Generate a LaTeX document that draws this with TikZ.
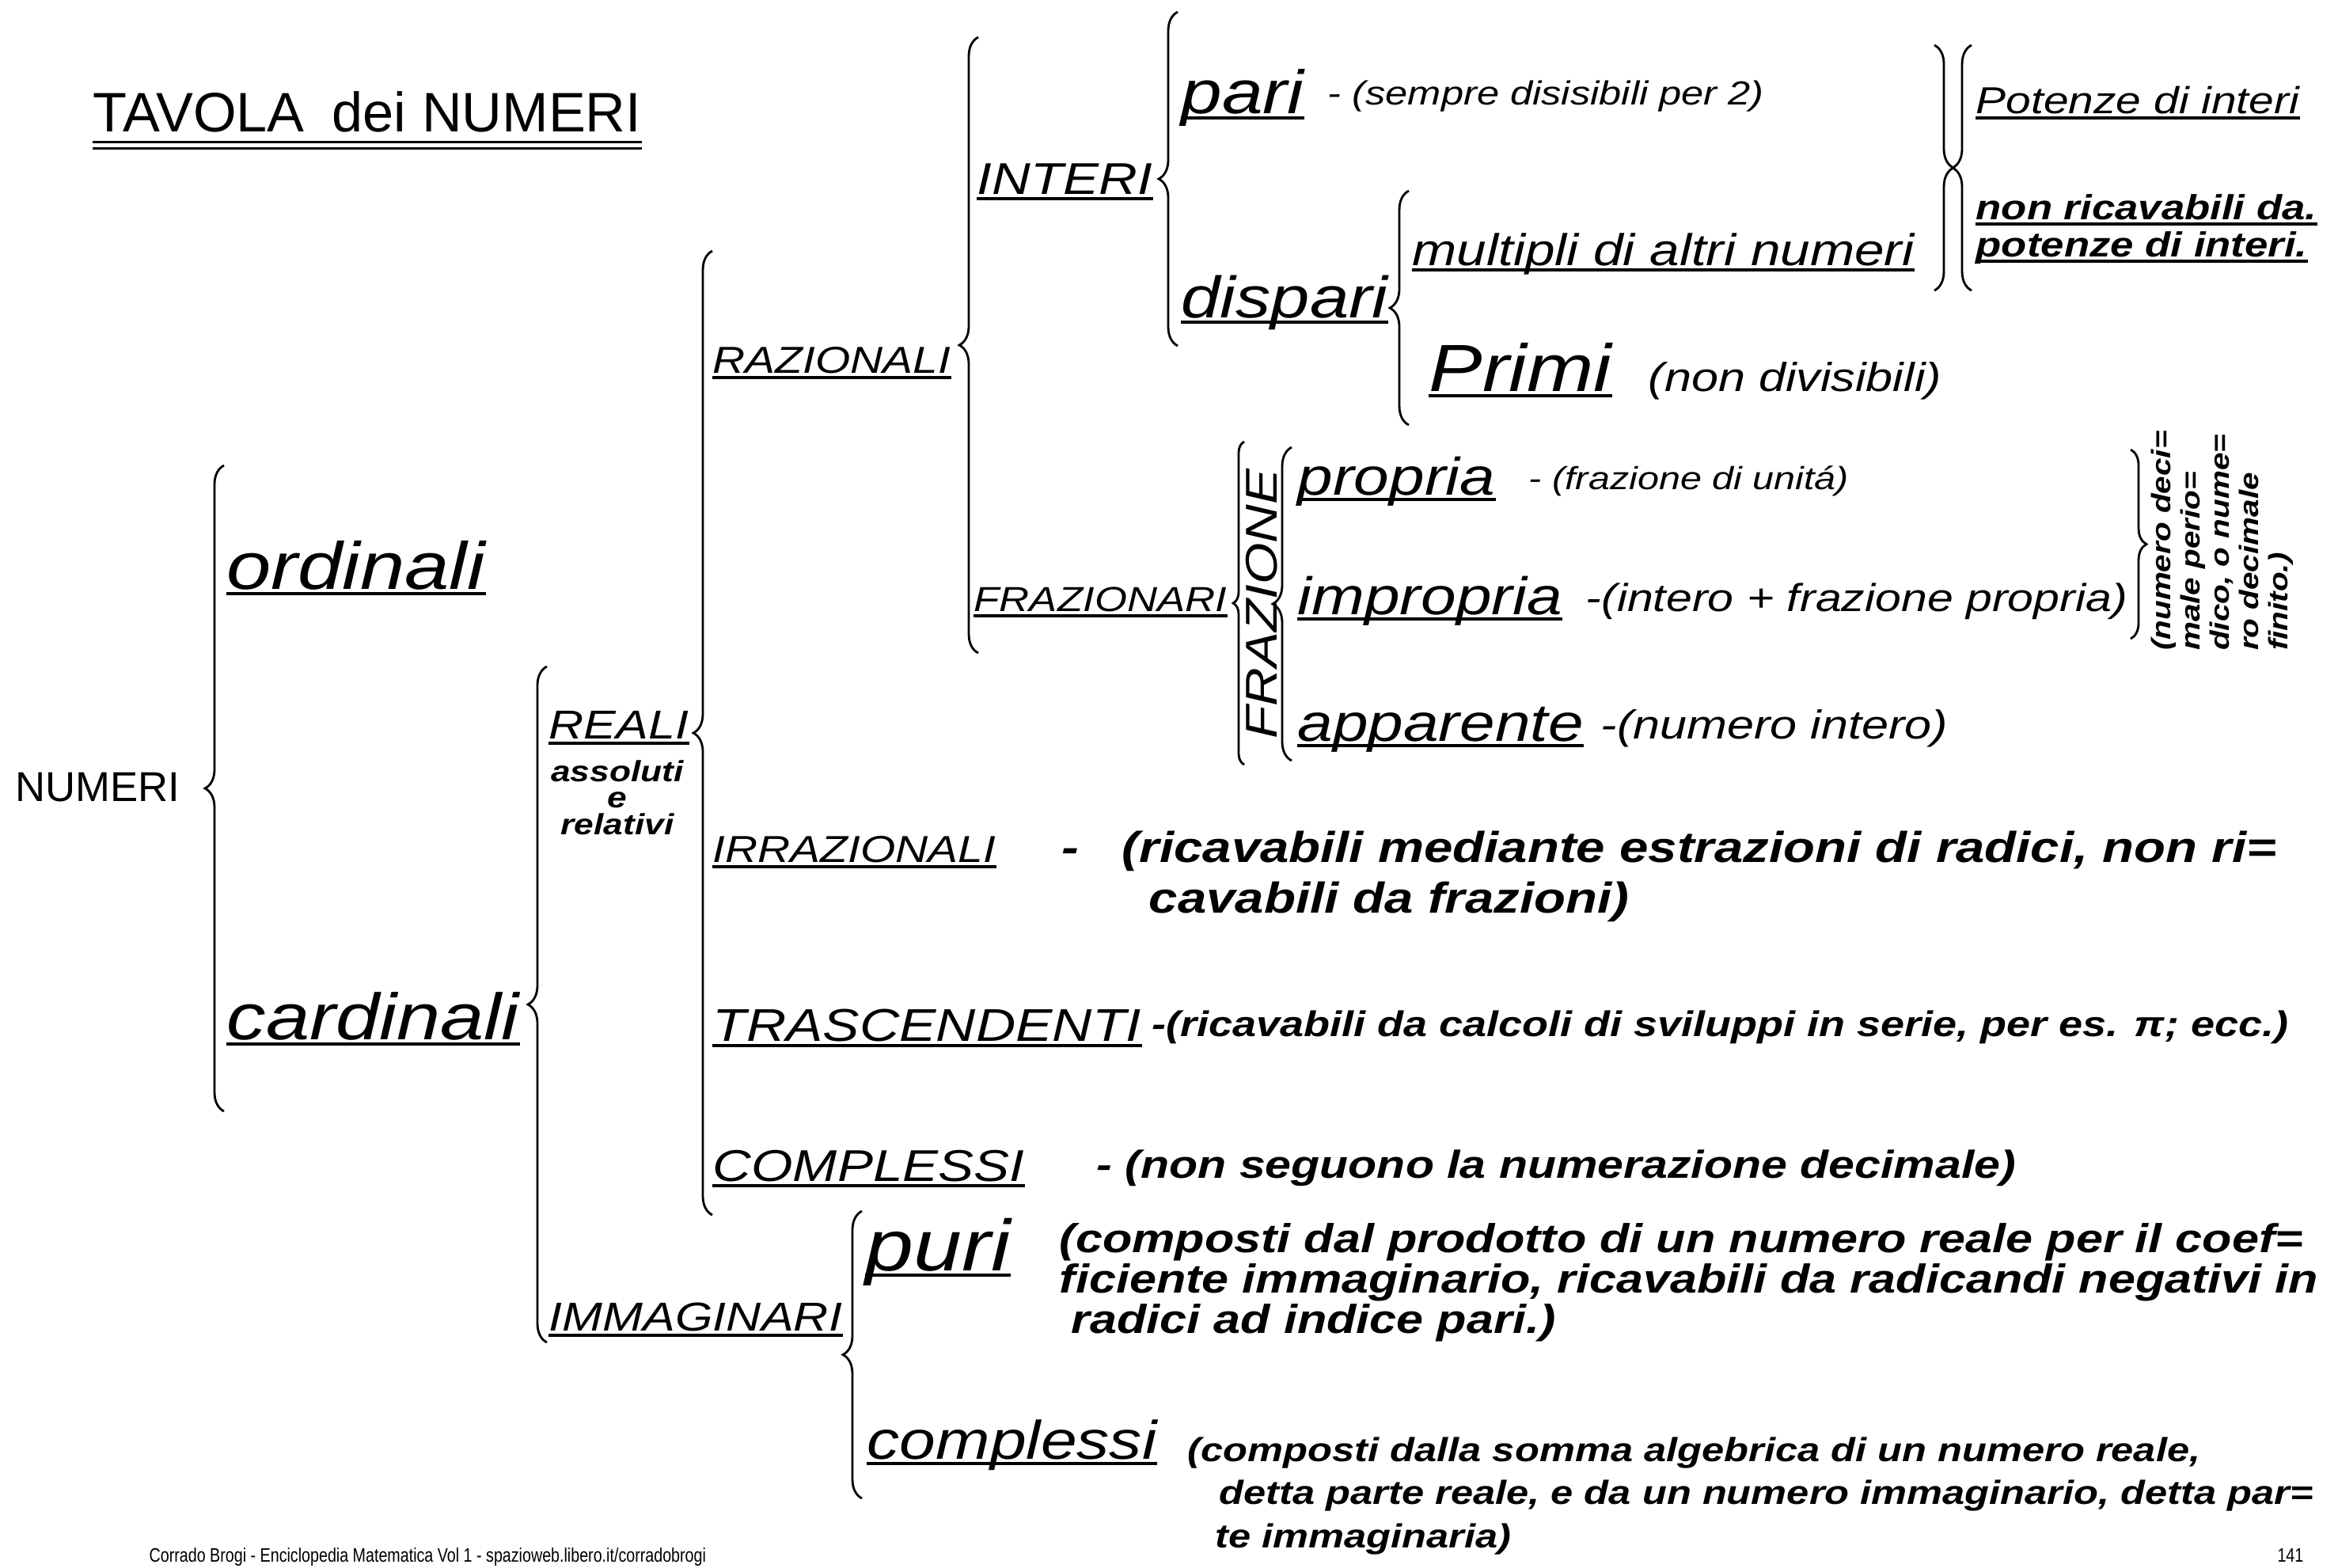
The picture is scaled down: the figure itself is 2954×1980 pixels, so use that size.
\documentclass[tikz,border=0pt]{standalone}
\usepackage{fontspec}
\setmainfont{Liberation Sans}
\newfontfamily\hand[FakeStretch=1.2]{Liberation Sans}
\newfontfamily\footfont[FakeStretch=0.8]{Liberation Sans}
\usetikzlibrary{decorations.pathreplacing}
\tikzset{
  brc/.style   = {decorate, decoration={brace, amplitude=#1}, line width=0.8pt},
  brc/.default = 2.4mm,
  ul/.style    = {line width=1pt},
  lbl/.style   = {anchor=base west, inner xsep=0pt, inner ysep=1.5pt, text depth=0pt,
                  font=\hand\itshape\fontsize{#1}{#1}\selectfont,
                  append after command={(\tikzlastnode.south west) edge[ul] (\tikzlastnode.south east)}},
  blbl/.style  = {lbl=#1, font=\hand\bfseries\itshape\fontsize{#1}{#1}\selectfont},
  desc/.style 2 args  = {anchor=base west, inner sep=0pt, align=left,
                         font=\hand\itshape\fontsize{#1}{#2}\selectfont},
  bdesc/.style 2 args = {desc={#1}{#2}, font=\hand\bfseries\itshape\fontsize{#1}{#2}\selectfont},
}

\begin{document}
\begin{tikzpicture}[x=0.1mm, y=-0.1mm]
  \useasboundingbox[fill=white] (0,0) rectangle (2954,1980);

  % title
  \node[anchor=base west, inner sep=0pt, text depth=0pt, font=\fontsize{20}{20}\selectfont]
    (title) at (117,166) {TAVOLA\enspace dei NUMERI};
  \draw[ul] ([yshift=-1.3mm]title.south west) -- ([yshift=-1.3mm]title.south east);
  \draw[ul] ([yshift=-2.1mm]title.south west) -- ([yshift=-2.1mm]title.south east);

  % first level
  \node[anchor=base west, inner sep=0pt, font=\fontsize{15}{15}\selectfont] (numeri) at (19,1012) {NUMERI};
  \coordinate (bNumT) at (283,588);  \coordinate (bNumB) at (283,1404);
  \draw[brc] (bNumB) -- (bNumT);
  \node[lbl=24]   (ordinali)  at (286,744)  {ordinali};
  \node[lbl=23.5] (cardinali) at (286,1313) {cardinali};

  % cardinali
  \coordinate (bCarT) at (691,842);  \coordinate (bCarB) at (691,1696);
  \draw[brc] (bCarB) -- (bCarT);
  \node[lbl=14.5] (reali) at (693,933) {REALI};
  \node[bdesc={10.5}{9.5}, anchor=north, align=center] (assrel) at (780,960) {assoluti\\e\\relativi};
  \node[lbl=14.5] (immaginari) at (693,1681) {IMMAGINARI};

  % reali
  \coordinate (bReaT) at (900,317);  \coordinate (bReaB) at (900,1535);
  \draw[brc] (bReaB) -- (bReaT);
  \node[lbl=13.5] (razionali) at (900,471) {RAZIONALI};
  \node[lbl=13.5] (irrazionali) at (900,1089) {IRRAZIONALI};
  \node[bdesc={15.5}{18.2}] (dIrr) at (1341,1153)
    {-\quad(ricavabili mediante estrazioni di radici, non ri=\\\hspace*{11mm}cavabili da frazioni)};
  \node[lbl=16.5] (trascendenti) at (900,1315) {TRASCENDENTI};
  \node[bdesc={12.8}{12.8}] (dTra) at (1455,1309)
    {-(ricavabili da calcoli di sviluppi in serie, per es. π; ecc.)};
  \node[lbl=16] (complessi) at (900,1492) {COMPLESSI};
  \node[bdesc={14}{14}] (dCom) at (1385,1488) {- (non seguono la numerazione decimale)};

  % razionali
  \coordinate (bRazT) at (1236,47);  \coordinate (bRazB) at (1236,825);
  \draw[brc] (bRazB) -- (bRazT);
  \node[lbl=16]   (interi)     at (1234,245) {INTERI};
  \node[lbl=12.5] (frazionari) at (1230,772) {FRAZIONARI};

  % interi
  \coordinate (bIntT) at (1488,15);  \coordinate (bIntB) at (1488,437);
  \draw[brc] (bIntB) -- (bIntT);
  \node[lbl=22] (pari) at (1492,143) {pari};
  \node[desc={12}{12}] (dPari) at (1677,132) {- (sempre disisibili per 2)};
  \node[lbl=21] (dispari) at (1492,401) {dispari};

  % dispari
  \coordinate (bDisT) at (1780,241);  \coordinate (bDisB) at (1780,537);
  \draw[brc] (bDisB) -- (bDisT);
  \node[lbl=16] (multipli) at (1784,335) {multipli di altri numeri};
  \node[lbl=24] (primi) at (1805,494) {Primi};
  \node[desc={14.5}{14.5}] (dPrimi) at (2082,494) {(non divisibili)};

  % potenze
  \coordinate (bPotT) at (2444,57);  \coordinate (bPotB) at (2444,367);
  \draw[brc] (bPotT) -- (bPotB);
  \coordinate (bPoT) at (2491,57);  \coordinate (bPoB) at (2491,367);
  \draw[brc] (bPoB) -- (bPoT);
  \node[lbl=13.5]  (potenze) at (2496,143) {Potenze di interi};
  \node[blbl=12.5] (nonric)  at (2496,277) {non ricavabili da.};
  \node[blbl=12.5] (nonpot)  at (2496,324) {potenze di interi.};

  % frazionari
  \coordinate (bFr1T) at (1572,558);  \coordinate (bFr1B) at (1572,966);
  \draw[brc=1.4mm] (bFr1B) -- (bFr1T);
  \node[rotate=90, inner sep=0pt, font=\hand\itshape\fontsize{16}{16}\selectfont]
    (frazione) at (1594,763) {FRAZIONE};
  \coordinate (bFr2T) at (1632,565);  \coordinate (bFr2B) at (1632,961);
  \draw[brc] (bFr2B) -- (bFr2T);
  \node[lbl=19] (propria) at (1639,625) {propria};
  \node[desc={11.5}{11.5}] (dPropria) at (1931,618) {- (frazione di unitá)};
  \node[lbl=19] (impropria) at (1639,776) {impropria};
  \node[desc={14}{14}] (dImpropria) at (2003,772) {-(intero + frazione propria)};
  \node[lbl=19] (apparente) at (1639,936) {apparente};
  \node[desc={14.5}{14.5}] (dApparente) at (2022,933) {-(numero intero)};

  \coordinate (bDecT) at (2692,568);  \coordinate (bDecB) at (2692,807);
  \draw[brc=2mm] (bDecT) -- (bDecB);
  \node[bdesc={9.6}{10.5}, rotate=90, anchor=center] (nDec) at (2808,683)
    {(numero deci=\\male perio=\\dico, o nume=\\ro decimale\\finito.)};

  % immaginari
  \coordinate (bImmT) at (1089,1530);  \coordinate (bImmB) at (1089,1893);
  \draw[brc] (bImmB) -- (bImmT);
  \node[lbl=26] (puri) at (1093,1605) {puri};
  \node[bdesc={14.5}{13}] (dPuri) at (1338,1684)
    {(composti dal prodotto di un numero reale per il coef=\\ficiente immaginario, ricavabili da radicandi negativi in\\\hspace*{1.5mm}radici ad indice pari.)};
  \node[lbl=19.5] (cmpI) at (1095,1843) {complessi};
  \node[bdesc={12}{15.5}] (dCmpI) at (1500,1955)
    {(composti dalla somma algebrica di un numero reale,\\\hspace*{4mm}detta parte reale, e da un numero immaginario, detta par=\\\hspace*{3.5mm}te immaginaria)};

  % footer
  \node[anchor=base west, inner sep=0pt, font=\footfont\fontsize{7}{7}\selectfont]
    (foot) at (188,1973) {Corrado Brogi - Enciclopedia Matematica Vol 1 - spazioweb.libero.it/corradobrogi};
  \node[anchor=base east, inner sep=0pt, font=\footfont\fontsize{7}{7}\selectfont]
    (page) at (2911,1973) {141};
\end{tikzpicture}
\end{document}
